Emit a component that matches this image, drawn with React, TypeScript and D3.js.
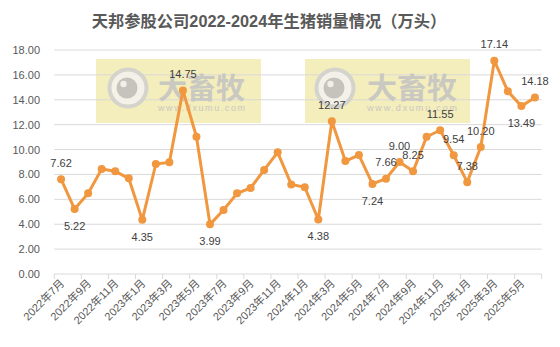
import React from "react";
import * as d3 from "d3";

const title = "天邦参股公司2022-2024年生猪销量情况（万头）";

const months = [
  "2022年7月", "2022年8月", "2022年9月", "2022年10月", "2022年11月", "2022年12月",
  "2023年1月", "2023年2月", "2023年3月", "2023年4月", "2023年5月", "2023年6月",
  "2023年7月", "2023年8月", "2023年9月", "2023年10月", "2023年11月", "2023年12月",
  "2024年1月", "2024年2月", "2024年3月", "2024年4月", "2024年5月", "2024年6月",
  "2024年7月", "2024年8月", "2024年9月", "2024年10月", "2024年11月", "2024年12月",
  "2025年1月", "2025年2月", "2025年3月", "2025年4月", "2025年5月", "2025年6月",
];

const sales = [
  7.62, 5.22, 6.48, 8.44, 8.25, 7.69,
  4.35, 8.84, 8.97, 14.75, 11.03, 3.99,
  5.14, 6.48, 6.91, 8.36, 9.78, 7.2,
  6.97, 4.38, 12.27, 9.08, 9.56, 7.24,
  7.66, 9.0, 8.25, 11.03, 11.55, 9.54,
  7.38, 10.2, 17.14, 14.68, 13.49, 14.18,
];

// which points carry a value label, and on which side
const labelled: Record<number, "above" | "below"> = {
  0: "above", 1: "below", 6: "below", 9: "above", 11: "below", 19: "below",
  20: "above", 23: "below", 24: "above", 25: "above", 26: "above", 28: "above",
  29: "above", 30: "above", 31: "above", 32: "above", 34: "below", 35: "above",
};

const yTicks = [0, 2, 4, 6, 8, 10, 12, 14, 16, 18];

const W = 560;
const H = 347;
const left = 54.3;
const right = 541.7;
const top = 50;
const bottom = 274;
const lineColor = "#F0973F";
const textColor = "#595959";
const font = "'Liberation Sans', 'Noto Sans CJK SC', sans-serif";

function Watermark({ x0, x1 }: { x0: number; x1: number }) {
  return <rect x={x0} y={59} width={x1 - x0} height={64} fill="#f4edbc" />;
}

function WatermarkLogo({ cx, tx0, tx1 }: { cx: number; tx0: number; tx1: number }) {
  return (
    <g opacity={0.85}>
      <circle cx={cx} cy={88} r={18.5} fill="#f4f4f0" stroke="#cfcfcf" strokeWidth={4} />
      <circle cx={cx - 1} cy={88} r={10.5} fill="#bdbdbd" />
      <circle cx={cx - 4.5} cy={84} r={3.2} fill="#f0f0f0" />
      <text
        x={tx0}
        y={99}
        fontFamily="'Noto Sans CJK SC', sans-serif"
        fontWeight={700}
        fontSize={29}
        fill="#c3c3c3"
        textLength={tx1 - tx0}
        lengthAdjust="spacingAndGlyphs"
      >
        大畜牧
      </text>
      <text
        x={tx0}
        y={111}
        fontFamily="'Liberation Sans', sans-serif"
        fontSize={9}
        fill="#c3c3c3"
        textLength={tx1 - tx0}
        lengthAdjust="spacing"
      >
        www.dxumu.com
      </text>
    </g>
  );
}

export default function App() {
  const x = d3.scaleBand<string>().domain(months).range([left, right]).padding(0);
  const y = d3.scaleLinear().domain([0, 18]).range([bottom, top]);
  const bw = x.bandwidth();
  const cx = (m: string) => (x(m) as number) + bw / 2;

  const line = d3
    .line<number>()
    .x((_, i) => cx(months[i]))
    .y((d) => y(d));

  const tickBoundaries = d3.range(0, months.length + 1, 2).map((i) => left + i * bw);

  return (
    <svg
      width={W}
      height={H}
      style={{ position: "absolute", left: 0, top: 0, background: "#fff" }}
      fontFamily={font}
    >
      <rect x={0} y={0} width={W} height={H} fill="#fff" />
      <text x={269} y={27} textAnchor="middle" fontSize={16.3} fontWeight={700} fill={textColor}>
        {title}
      </text>

      <Watermark x0={96} x1={261} />
      <Watermark x0={305} x1={470} />

      {yTicks.map((t) => (
        <g key={t}>
          <line x1={left} x2={right} y1={y(t)} y2={y(t)} stroke="#d9d9d9" strokeWidth={1} />
          <text x={40} y={y(t) + 4} textAnchor="end" fontSize={11} fill={textColor}>
            {t.toFixed(2)}
          </text>
        </g>
      ))}

      <WatermarkLogo cx={128} tx0={158} tx1={245} />
      <WatermarkLogo cx={335} tx0={367} tx1={457} />

      {tickBoundaries.map((bx, i) => (
        <line key={i} x1={bx} x2={bx} y1={bottom} y2={bottom + 5} stroke="#d9d9d9" strokeWidth={1} />
      ))}

      {months.map((m, i) =>
        i % 2 === 0 ? (
          <text
            key={m}
            transform={`translate(${cx(m) + 4},${bottom + 10}) rotate(-45)`}
            textAnchor="end"
            fontSize={11}
            fill={textColor}
          >
            {m}
          </text>
        ) : null
      )}

      <path d={line(sales) || ""} fill="none" stroke={lineColor} strokeWidth={3} strokeLinejoin="round" />
      {sales.map((v, i) => (
        <circle key={i} cx={cx(months[i])} cy={y(v)} r={4} fill={lineColor} />
      ))}

      {sales.map((v, i) => {
        const pos = labelled[i];
        if (!pos) return null;
        const py = y(v);
        return (
          <text
            key={`l${i}`}
            x={cx(months[i])}
            y={pos === "above" ? py - 12.5 : py + 21}
            textAnchor="middle"
            fontSize={11}
            fill="#404040"
          >
            {v.toFixed(2)}
          </text>
        );
      })}
    </svg>
  );
}
